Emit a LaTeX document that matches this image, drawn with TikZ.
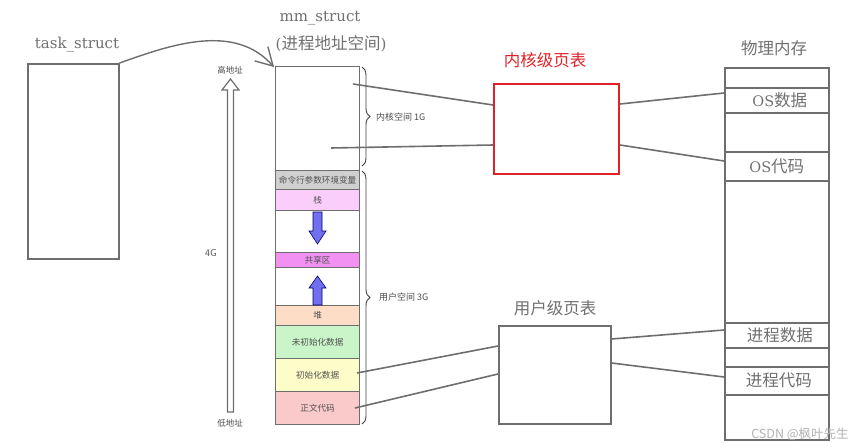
\documentclass[tikz,border=0pt]{standalone}
\usepackage{fontspec}
\setmainfont{DejaVu Serif}
\newfontfamily\cjk{Noto Sans CJK SC}
\usetikzlibrary{decorations.pathreplacing,arrows.meta}
\definecolor{lg}{HTML}{707070}
\definecolor{ln}{HTML}{6E6E6E}
\definecolor{kred}{HTML}{E02228}
\definecolor{cmdc}{HTML}{D0D0D0}
\definecolor{stkc}{HTML}{FBCDFB}
\definecolor{shrc}{HTML}{F291F2}
\definecolor{heapc}{HTML}{FDDDC6}
\definecolor{bssc}{HTML}{C9F5C9}
\definecolor{datac}{HTML}{FDFDC9}
\definecolor{textc}{HTML}{FAC9C9}
\definecolor{bluea}{HTML}{6F6FEF}
\begin{document}
\begin{tikzpicture}[x=1pt,y=-1pt,
  box/.style={draw=ln, line width=1.6pt, inner sep=0pt, anchor=north west},
  seg/.style={draw=ln, line width=1.2pt, minimum width=84pt, inner sep=0pt, anchor=north west,
     font=\cjk\fontsize{8.6}{9}\selectfont, text=black!68},
  pseg/.style={draw=ln, line width=1.6pt, minimum width=104pt, inner sep=0pt, anchor=north west,
     font=\fontsize{14.5}{17}\selectfont, text=lg},
  title/.style={text=lg, font=\fontsize{15}{18}\selectfont, inner sep=0pt},
  ctitle/.style={text=lg, font=\cjk\fontsize{16.5}{18}\selectfont, inner sep=0pt},
  small/.style={text=black!70, font=\cjk\fontsize{9}{10}\selectfont, inner sep=0pt},
  link/.style={draw=ln, line width=1.6pt},
  brc/.style={draw=black!75, line width=0.9pt, decorate, decoration={brace, amplitude=8pt}},
  bluearrow/.style={fill=bluea, draw=black!60!blue, line width=0.6pt}]
\useasboundingbox (0,0) rectangle (865,447);

% task_struct
\node[title] (tslbl) at (77,45) {task\_struct};
\node[box, minimum width=91pt, minimum height=195pt] (ts) at (27,63) {};

% mm_struct titles
\node[title] (mmlbl) at (320,18) {mm\_struct};
\node[title] (mmlbl2) at (331,44) {(\cjk\fontsize{16.5}{18}\selectfont 进程地址空间\rmfamily\fontsize{15}{18}\selectfont)};

% address space column
\node[seg, minimum height=104pt] (kern) at (275,66) {};
\node[seg, minimum height=19pt, fill=cmdc] (cmd) at (275,170) {命令行参数环境变量};
\node[seg, minimum height=21pt, fill=stkc] (stk) at (275,189) {栈};
\node[seg, minimum height=42pt] (gap1) at (275,210) {};
\node[seg, minimum height=15pt, fill=shrc] (shr) at (275,252) {共享区};
\node[seg, minimum height=38pt] (gap2) at (275,267) {};
\node[seg, minimum height=20pt, fill=heapc] (heap) at (275,305) {堆};
\node[seg, minimum height=33pt, fill=bssc] (bss) at (275,325) {未初始化数据};
\node[seg, minimum height=33pt, fill=datac] (data) at (275,358) {初始化数据};
\node[seg, minimum height=33pt, fill=textc] (txt) at (275,391) {正文代码};

% blue arrows
\path[bluearrow] (313,212) -- (313,231) -- (309,231) -- (317.5,244) -- (326,231) -- (322,231) -- (322,212) -- cycle;
\path[bluearrow] (313,305) -- (313,288) -- (309,288) -- (317.5,276) -- (326,288) -- (322,288) -- (322,305) -- cycle;

% hollow address arrow
\draw[draw=ln, fill=white, line width=1.2pt] (227.5,412) -- (227.5,90) -- (222,90) -- (230.5,79) -- (239,90) -- (233.5,90) -- (233.5,412) -- cycle;
\node[small, font=\cjk\fontsize{8.5}{9}\selectfont] (high) at (230,70) {高地址};
\node[small, font=\cjk\fontsize{8.5}{9}\selectfont] (low) at (230,423) {低地址};
\node[small, font=\fontsize{10}{10}\selectfont\sffamily] (fourg) at (211,253) {4G};

% braces
\draw[brc] (362,67) -- (362,166);
\draw[brc] (362,171) -- (362,424);
\node[small, anchor=west] (klbl) at (376,117) {内核空间 1G};
\node[small, anchor=west] (ulbl) at (379,297) {用户空间 3G};

% kernel page table
\node[text=kred, font=\cjk\fontsize{16.5}{18}\selectfont, inner sep=0pt] (kptlbl) at (545,60) {内核级页表};
\node[box, draw=kred, line width=2pt, minimum width=125pt, minimum height=90pt] (kpt) at (493,83) {};

% user page table
\node[ctitle] (uptlbl) at (555,308) {用户级页表};
\node[box, minimum width=112pt, minimum height=98pt] (upt) at (498,325) {};

% physical memory
\node[ctitle] (pmlbl) at (774,48) {物理内存};
\node[pseg, minimum height=20pt] (p0) at (724,67) {};
\node[pseg, minimum height=25pt] (osd) at (724,87) {\hspace{6pt}OS{\cjk\fontsize{16.5}{17}\selectfont 数据}};
\node[pseg, minimum height=39pt] (p1) at (724,112) {};
\node[pseg, minimum height=29pt] (osc) at (724,151) {OS{\cjk\fontsize{16.5}{17}\selectfont 代码}};
\node[pseg, minimum height=142pt] (p2) at (724,180) {};
\node[pseg, minimum height=25pt, font=\cjk\fontsize{16.5}{17}\selectfont] (pd) at (724,322) {\hspace{6pt}进程数据};
\node[pseg, minimum height=19pt] (p3) at (724,347) {};
\node[pseg, minimum height=28pt, font=\cjk\fontsize{16.5}{17}\selectfont] (pc) at (724,366) {\hspace{4pt}进程代码};
\node[pseg, minimum height=45pt] (p4) at (724,394) {};

% connectors
\draw[link, line width=1.4pt, line cap=round] (ts.north east) .. controls (170,45) and (235,22) .. ([xshift=-2pt]kern.north west);
\draw[link, line width=1.4pt, line cap=round] ([xshift=-7pt,yshift=19pt]kern.north west) -- ([xshift=-2pt]kern.north west) -- ([xshift=-20pt,yshift=5pt]kern.north west);
\coordinate (k1) at (353,84);
\coordinate (k2) at (331,148);
\draw[link] (k1) -- ([yshift=-22pt]kpt.north west);
\draw[link] (k2) -- ([yshift=-62pt]kpt.north west);
\draw[link] ([yshift=-21pt]kpt.north east) -- ([yshift=-6pt]osd.north west);
\draw[link] ([yshift=-62pt]kpt.north east) -- ([yshift=-10pt]osc.north west);
\coordinate (u1) at (357,373);
\coordinate (u2) at (355,408);
\draw[link] (u1) -- ([yshift=-21pt]upt.north west);
\draw[link] (u2) -- ([yshift=-49pt]upt.north west);
\draw[link] ([yshift=-14pt]upt.north east) -- ([yshift=-8pt]pd.north west);
\draw[link] ([yshift=-38pt]upt.north east) -- ([yshift=-11pt]pc.north west);

% watermark
\node[text=black!30, font=\cjk\fontsize{12.5}{13}\selectfont, inner sep=0pt] (wm) at (800,434) {CSDN @枫叶先生};
\end{tikzpicture}
\end{document}
